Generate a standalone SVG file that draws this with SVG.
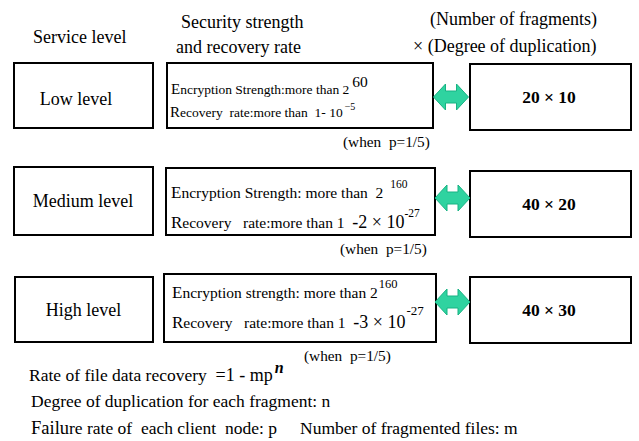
<svg xmlns="http://www.w3.org/2000/svg" width="639" height="441" viewBox="0 0 639 441">
  <style>
    text { font-family: "Liberation Serif", "Times New Roman", serif; fill: #000; white-space: pre; }
    .box { fill: #fff; stroke: #000; stroke-width: 2; }
    .hdr { font-size: 18px; }
    .lvl { font-size: 18px; text-anchor: middle; }
    .inf-s { font-size: 13.5px; }
    .inf { font-size: 15.5px; }
    .cap { font-size: 15px; }
    .cap-l { font-size: 17px; }
    .big { font-size: 18px; }
    .sup { font-size: 11.5px; }
    .num { font-size: 17.5px; font-weight: bold; text-anchor: middle; }
    .when { font-size: 15.3px; }
    .note { font-size: 17.5px; }
    .arrow { fill: #2fd3a0; stroke: #17b383; stroke-width: 1; }
  </style>
  <defs>
    <path id="dbl" class="arrow" d="M -17.5,0 L -5.5,-13 L -5.5,-6 L 5.5,-6 L 5.5,-13 L 17.5,0 L 5.5,13 L 5.5,6 L -5.5,6 L -5.5,13 Z"/>
  </defs>

  <!-- column headings -->
  <g id="headings">
    <text x="33" y="43" class="hdr">Service level</text>
    <text x="181" y="28" class="hdr">Security strength</text>
    <text x="176" y="53" class="hdr" font-size="19">and recovery rate</text>
    <text x="430" y="25" class="hdr">(Number of fragments)</text>
    <text x="413" y="52" class="hdr" font-size="20">× (Degree of duplication)</text>
  </g>

  <!-- service levels -->
  <g id="level-low">
    <rect class="box" x="14" y="63" width="139" height="65"/>
    <text x="76" y="105" class="lvl">Low level</text>
  </g>
  <g id="level-medium">
    <rect class="box" x="14" y="167" width="139" height="68"/>
    <text x="83" y="207" class="lvl">Medium level</text>
  </g>
  <g id="level-high">
    <rect class="box" x="15" y="277" width="138" height="65"/>
    <text x="83.5" y="316" class="lvl">High level</text>
  </g>

  <!-- security strength and recovery rate -->
  <g id="security-low">
    <rect class="box" x="167" y="63" width="266" height="65"/>
    <text x="171" y="94" class="inf-s"><tspan class="cap">E</tspan>ncryption Strength:more than 2<tspan dx="3" dy="-7" font-size="15.5">60</tspan></text>
    <text x="170" y="117" class="inf-s"><tspan class="cap">R</tspan>ecovery  rate:more than  1- 10<tspan dx="2" dy="-7" font-size="10">−5</tspan></text>
    <text x="343" y="147" class="when">(when  p=1/5)</text>
  </g>
  <g id="security-medium">
    <rect class="box" x="166" y="168" width="269" height="67"/>
    <text x="171" y="198" class="inf"><tspan class="cap-l">E</tspan>ncryption Strength: more than  2<tspan dx="7" dy="-10" class="sup">160</tspan></text>
    <text x="171" y="228" class="inf"><tspan class="cap-l">R</tspan>ecovery   rate:more than 1  <tspan class="big">-2 × 10</tspan><tspan dx="0" dy="-11" class="sup">-27</tspan></text>
    <text x="340" y="254" class="when">(when  p=1/5)</text>
  </g>
  <g id="security-high">
    <rect class="box" x="164" y="274" width="272" height="68"/>
    <text x="172" y="298" class="inf" font-size="16"><tspan class="cap-l">E</tspan>ncryption strength: more than 2<tspan dx="1" dy="-10" font-size="12.5">160</tspan></text>
    <text x="172" y="328" class="inf"><tspan class="cap-l">R</tspan>ecovery   rate:more than 1  <tspan class="big">-3 × 10</tspan><tspan dx="1" dy="-13" font-size="13">-27</tspan></text>
    <text x="304" y="361" class="when">(when  p=1/5)</text>
  </g>

  <!-- fragments x duplication -->
  <g id="config-low">
    <rect class="box" x="470" y="64" width="161" height="66"/>
    <text x="549" y="103" class="num">20 × 10</text>
  </g>
  <g id="config-medium">
    <rect class="box" x="470" y="171" width="161" height="66"/>
    <text x="549" y="210" class="num">40 × 20</text>
  </g>
  <g id="config-high">
    <rect class="box" x="470" y="277" width="161" height="66"/>
    <text x="549" y="316" class="num">40 × 30</text>
  </g>

  <!-- two-way links -->
  <g id="connectors">
    <use href="#dbl" x="451" y="97"/>
    <use href="#dbl" x="452.5" y="198"/>
    <use href="#dbl" x="452.5" y="302"/>
  </g>

  <!-- definitions -->
  <g id="notes">
    <text x="29" y="381" class="note">Rate of file data recovery  <tspan font-size="18">=1 - mp</tspan><tspan dx="2" dy="-8" font-size="16" font-weight="bold" font-style="italic">n</tspan></text>
    <text x="31" y="407" class="note" font-size="18">Degree of duplication for each fragment: n</text>
    <text x="31" y="434" class="note"><tspan font-size="18.5">Failu</tspan>re rate of  each client  node: p</text>
    <text x="300" y="434" class="note">Number of fragmented files: m</text>
  </g>
</svg>
